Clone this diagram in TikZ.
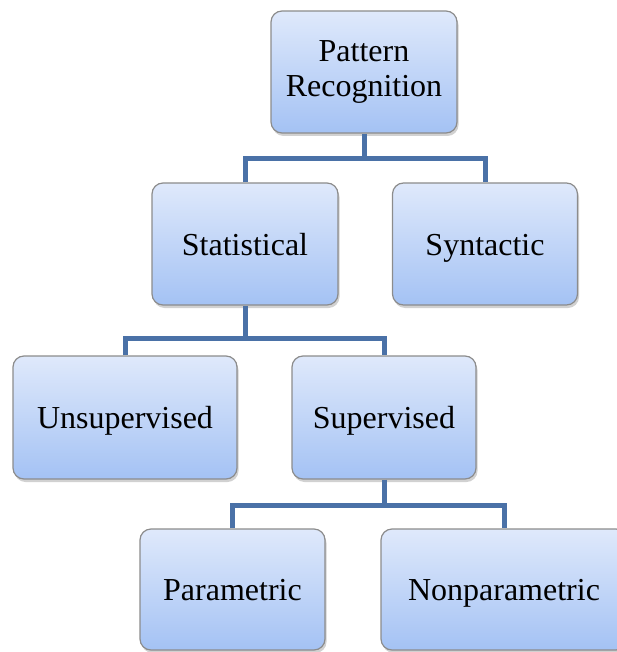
\documentclass[tikz,border=0pt]{standalone}
\usepackage{fontspec}
\setmainfont{Liberation Serif}
\usetikzlibrary{shadows}
\definecolor{boxtop}{HTML}{DFE9FB}
\definecolor{boxbot}{HTML}{A4C2F4}
\definecolor{boxedge}{HTML}{8C8C8C}
\definecolor{conncol}{HTML}{4A71A7}
\tikzset{
  box/.style={draw=boxedge, line width=1.2pt, rounded corners=11pt,
    top color=boxtop, bottom color=boxbot, align=center,
    font=\fontsize{32}{35}\selectfont, inner sep=0pt,
    drop shadow={shadow xshift=1.5pt, shadow yshift=-3pt, opacity=0.3, fill=black!60}},
  oneline/.style={text height=28pt, text depth=6pt},
  conn/.style={draw=conncol, line width=5pt, line join=miter}
}
\begin{document}
\begin{tikzpicture}[x=1pt,y=-1pt]
\useasboundingbox (0,0) rectangle (616,652);
\node[box, minimum width=186pt, minimum height=122pt] (pr) at (364,72) {Pattern\\Recognition};
\node[box, oneline, minimum width=186pt, minimum height=122pt] (stat) at (245,244) {Statistical};
\node[box, oneline, minimum width=185pt, minimum height=122pt] (syn) at (485,244) {Syntactic};
\node[box, oneline, minimum width=224pt, minimum height=123pt] (unsup) at (125,417.5) {Unsupervised};
\node[box, oneline, minimum width=184pt, minimum height=123pt] (sup) at (384,417.5) {Supervised};
\node[box, oneline, minimum width=185pt, minimum height=121pt] (param) at (232.5,589.5) {Parametric};
\node[box, oneline, minimum width=246pt, minimum height=121pt] (nonparam) at (504,589.5) {Nonparametric};
\draw[conn] (pr.south) -- ++(0,25) coordinate (b1);
\draw[conn] (stat.north) |- (b1) -| (syn.north);
\draw[conn] (stat.south) -- ++(0,33) coordinate (b2);
\draw[conn] (unsup.north) |- (b2) -| (sup.north);
\draw[conn] (sup.south) -- ++(0,26) coordinate (b3);
\draw[conn] (param.north) |- (b3) -| (nonparam.north);
\end{tikzpicture}
\end{document}
